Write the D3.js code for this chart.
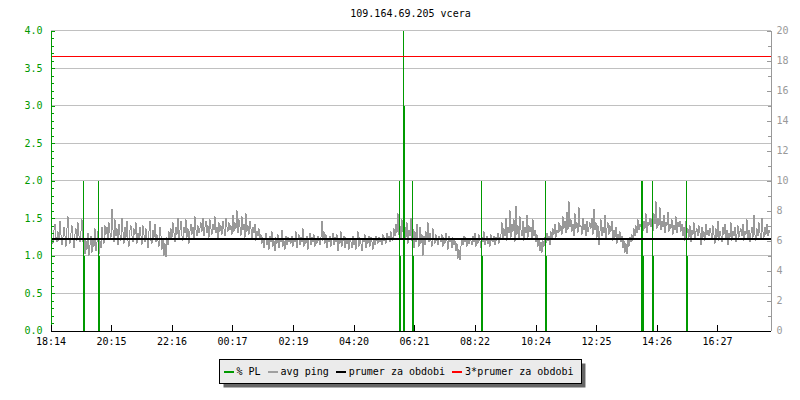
<!DOCTYPE html>
<html>
<head>
<meta charset="utf-8">
<script src="https://cdn.jsdelivr.net/npm/d3@7/dist/d3.min.js"></script>
<style>
body { margin: 0; background: #fff; }
text { font-family: "DejaVu Sans Mono", monospace; font-size: 10px; }
</style>
</head>
<body>
<svg id="chart" width="800" height="400"></svg>
<script>
// data
var title = "109.164.69.205 vcera";
var startTime = new Date(2013, 0, 14, 18, 14);
var spanMinutes = 1440;
var timeLabels = ["18:14", "20:15", "22:16", "00:17", "02:19", "04:20",
	"06:21", "08:22", "10:24", "12:25", "14:26", "16:27"];

var leftTicks = [0, 0.5, 1, 1.5, 2, 2.5, 3, 3.5, 4];
var rightTicks = [0, 2, 4, 6, 8, 10, 12, 14, 16, 18, 20];

// avg ping (ms), one value every 2 minutes, one row per hour
var pingStep = 2;
var ping = [
	6.5,6.1,5.8,6.7,7.1,6.2,5.9,6.6,6.0,7.3,6.4,5.7,6.2,6.9,6.3,5.6,6.8,7.6,6.1,5.8,6.5,7.0,6.2,5.5,6.4,6.8,6.0,7.2,6.3,5.9,
	6.6,7.4,5.9,6.2,5.1,6.0,5.4,6.5,5.0,5.7,6.3,5.2,6.1,5.6,6.8,5.3,5.9,6.6,5.1,6.0,5.5,6.9,6.2,5.8,7.0,6.4,6.9,6.1,7.2,6.5,
	6.2,8.1,6.7,5.9,7.4,6.3,6.8,5.7,7.1,6.4,6.0,7.5,6.6,5.8,6.9,6.2,7.3,6.0,5.6,6.7,7.0,6.3,5.9,6.8,6.4,7.2,5.8,6.5,6.1,6.9,
	6.3,5.7,7.0,6.4,5.9,6.8,6.1,5.5,6.6,7.3,6.0,5.8,6.7,6.2,7.1,5.9,6.4,6.0,5.6,6.9,6.3,5.4,6.1,5.0,5.8,4.9,6.2,5.7,6.6,6.1,
	6.8,6.2,7.2,6.5,5.9,6.9,6.4,7.5,6.1,6.7,7.3,6.3,6.0,6.9,6.5,7.4,6.2,6.8,5.8,6.6,7.1,6.4,6.9,6.1,7.6,6.7,6.3,7.0,6.5,6.8,
	7.2,6.6,7.5,6.3,6.9,7.3,6.5,7.0,6.2,7.4,6.8,6.4,7.1,6.7,7.6,6.5,6.9,6.1,7.2,6.6,7.0,6.4,7.3,6.8,6.3,7.5,6.9,6.6,7.2,6.7,
	7.0,6.4,7.7,6.6,7.2,6.8,8.0,6.5,7.4,6.9,6.3,7.6,6.7,7.1,6.2,7.8,6.6,7.0,6.4,7.3,6.8,6.1,6.9,6.5,7.1,6.0,6.6,6.3,6.8,6.1,
	6.4,5.8,6.2,5.5,6.0,6.5,5.7,6.1,5.4,6.3,5.9,6.6,5.6,6.0,5.3,6.2,5.8,6.4,5.5,6.1,5.9,6.7,5.6,6.0,5.4,6.3,5.7,6.2,5.9,6.0,
	5.8,6.3,5.6,6.1,5.9,6.6,5.5,6.0,6.4,5.7,6.2,5.9,6.8,5.6,6.1,5.8,6.3,5.4,6.0,6.5,5.7,6.2,5.9,6.4,5.6,6.1,5.8,6.3,6.0,5.7,
	6.2,7.3,6.0,6.6,5.8,6.4,5.5,6.1,5.9,6.3,5.6,6.0,6.5,5.7,6.2,5.9,6.4,5.3,6.1,5.8,6.6,5.6,6.0,6.3,5.5,6.2,5.8,6.1,5.4,6.0,
	5.9,5.5,6.3,5.7,6.1,5.4,6.0,6.6,5.6,6.2,5.8,5.3,6.1,5.9,6.4,5.5,6.0,5.8,6.3,5.6,6.2,5.9,5.4,6.1,5.7,6.3,6.0,5.8,6.2,5.9,
	6.1,5.7,6.4,6.0,6.2,5.8,6.5,6.1,6.3,5.9,6.6,6.2,6.0,6.8,6.3,7.1,6.5,7.8,6.4,7.0,6.1,7.4,6.6,5.9,6.9,6.2,7.2,5.8,6.7,6.3,
	7.5,6.0,6.8,5.5,6.6,5.9,7.1,6.2,5.6,6.9,5.8,6.4,5.0,6.3,5.7,6.6,6.1,7.2,5.9,6.5,6.0,5.6,6.8,6.2,5.8,6.4,6.0,5.7,6.3,6.1,
	5.9,6.4,5.6,6.2,5.8,6.5,6.0,5.4,6.3,5.9,6.1,5.5,6.2,5.7,6.0,5.3,5.8,4.8,5.4,4.7,5.6,6.1,5.7,6.3,5.9,6.2,5.6,6.0,5.8,6.1,
	6.0,5.7,6.3,5.9,6.5,5.6,6.1,5.8,6.4,6.0,5.5,6.2,5.9,6.6,5.7,6.0,6.3,5.8,6.1,5.6,6.4,6.0,5.9,6.3,5.7,6.2,6.0,6.5,5.8,6.2,
	6.4,7.2,6.1,6.8,6.3,7.5,6.0,6.9,6.5,8.0,6.2,7.1,6.6,7.4,5.9,8.3,6.4,7.0,6.1,7.6,6.7,6.3,7.3,6.0,6.9,6.5,7.7,6.2,7.0,6.6,
	6.9,6.1,7.4,6.3,6.7,5.9,6.4,5.6,6.1,5.3,5.9,5.2,6.0,5.6,6.2,5.8,6.5,6.0,6.3,5.7,6.6,6.1,6.8,6.4,7.1,6.2,6.7,6.5,7.2,6.6,
	7.0,6.4,7.6,6.8,7.3,6.5,7.9,6.7,8.6,6.9,7.4,6.6,7.1,6.3,7.8,6.8,7.2,6.5,8.2,6.9,7.0,6.4,7.5,6.7,7.1,6.3,7.3,6.6,6.9,7.2,
	6.8,7.5,6.4,8.1,6.7,7.2,6.2,7.0,5.7,6.6,7.4,6.3,6.9,6.5,7.7,6.1,6.8,7.2,6.4,7.0,6.6,7.3,6.0,6.7,6.2,6.9,5.8,6.4,6.1,6.6,
	5.9,6.3,5.5,6.0,5.2,5.8,5.1,6.1,5.6,6.2,5.9,6.4,6.0,6.8,6.3,7.0,6.5,7.4,6.7,7.1,6.9,7.6,6.6,7.3,6.8,7.8,6.5,7.2,7.0,7.5,
	6.9,7.4,6.6,7.8,7.1,8.6,6.8,7.5,7.0,8.2,6.7,7.3,6.9,7.7,6.5,7.2,7.0,7.9,6.6,7.1,6.8,7.4,6.4,7.0,6.7,7.6,6.5,7.2,6.9,7.3,
	6.6,7.1,6.3,6.9,6.0,7.3,6.5,6.8,6.2,7.0,5.9,6.7,6.4,7.2,6.1,6.6,6.8,6.3,7.0,6.5,5.7,6.9,6.2,6.6,6.0,7.1,6.4,6.7,6.3,6.8,
	6.5,6.1,7.0,6.4,5.8,6.8,6.2,7.3,6.0,6.6,6.3,5.9,6.9,6.4,7.1,6.1,6.7,5.7,6.5,6.2,7.2,6.0,6.6,6.3,6.9,5.9,6.4,7.0,6.2,6.6,
	6.8,6.3,7.1,6.0,6.6,6.4,7.4,6.1,6.7,5.9,6.5,6.9,6.2,7.7,6.4,6.0,6.8,6.3,7.2,6.5,6.1,7.5,6.6,6.2,6.9,6.4,7.1,6.3,6.7,6.5
];
var avgPing = 6.09; // prumer za obdobi

// packet loss events: minute offset, peak %, level %
var plMinutes = [65, 94, 697, 705, 723, 861, 989, 1180, 1182, 1203, 1271];
var plMax     = [2, 2, 2, 4, 2, 2, 2, 2, 2, 2, 2];
var plLevel   = [1, 1, 1, 3, 1, 1, 1, 1, 1, 1, 1];

var legendLabels = ["% PL", "avg ping", "prumer za obdobi", "3*prumer za obdobi"];

// styles
var green = "#009900", gray = "#999999", grid = "#c0c0c0";
var legendColors = [green, "#a0a0a0", "#000000", "#ff0000"];

var svg = d3.select("#chart");
var plotL = 50.5, plotR = 770.5, plotT = 30.5, plotB = 330.5;

function minutes(m) { return new Date(startTime.getTime() + m * 60000); }

var x = d3.scaleTime()
	.domain([startTime, minutes(spanMinutes)])
	.range([plotL, plotR]);
var yL = d3.scaleLinear().domain([0, 4]).range([plotB, plotT]);
var yR = d3.scaleLinear().domain([0, 20]).range([plotB, plotT]);

// tick dates from labels
var tickDates = timeLabels.map(function(s) {
	var p = s.split(":"), h = +p[0], mi = +p[1];
	var d = new Date(startTime);
	d.setHours(h, mi, 0, 0);
	if (d < startTime) d.setDate(d.getDate() + 1);
	return d;
});

// title
svg.append("text")
	.attr("x", (plotL + plotR) / 2)
	.attr("y", 17)
	.attr("text-anchor", "middle")
	.attr("fill", "#000")
	.text(title);

// horizontal grid
svg.append("g")
	.attr("shape-rendering", "crispEdges")
	.selectAll("line")
	.data(leftTicks.filter(function(d) { return d > 0; }))
	.enter().append("line")
	.attr("x1", plotL).attr("x2", plotR)
	.attr("y1", function(d) { return yL(d); })
	.attr("y2", function(d) { return yL(d); })
	.attr("stroke", grid);

// avg ping line
var pingLine = d3.line()
	.x(function(d, i) { return x(minutes(i * pingStep + 1)); })
	.y(function(d) { return yR(d); });

svg.append("path")
	.datum(ping)
	.attr("d", pingLine)
	.attr("fill", "none")
	.attr("stroke", gray)
	.attr("stroke-width", 1)
	.attr("shape-rendering", "crispEdges");

// packet loss
var pl = svg.append("g").attr("shape-rendering", "crispEdges");
plMinutes.forEach(function(m, i) {
	var px = Math.round(x(minutes(m)));
	pl.append("line")
		.attr("x1", px + 0.5).attr("x2", px + 0.5)
		.attr("y1", yL(0)).attr("y2", yL(plMax[i]))
		.attr("stroke", green);
	pl.append("rect")
		.attr("x", px - 0.5)
		.attr("width", 2)
		.attr("y", yL(plLevel[i]))
		.attr("height", yL(0) - yL(plLevel[i]))
		.attr("fill", green);
});

// average and 3*average
svg.append("line")
	.attr("x1", plotL).attr("x2", plotR)
	.attr("y1", Math.round(yR(avgPing))).attr("y2", Math.round(yR(avgPing)))
	.attr("stroke", "#000").attr("stroke-width", 2)
	.attr("shape-rendering", "crispEdges");
svg.append("line")
	.attr("x1", plotL).attr("x2", plotR)
	.attr("y1", yR(avgPing * 3)).attr("y2", yR(avgPing * 3))
	.attr("stroke", "#ff0000")
	.attr("shape-rendering", "crispEdges");

// axes
function styleAxis(g, color, textColor) {
	g.attr("shape-rendering", "crispEdges");
	g.select(".domain").attr("stroke", color);
	g.selectAll(".tick line").attr("stroke", color);
	g.selectAll(".tick text").attr("fill", textColor)
		.style("font-family", "'DejaVu Sans Mono', monospace").style("font-size", "10px");
}

svg.append("g")
	.attr("transform", "translate(" + plotL + ",0)")
	.call(d3.axisLeft(yL).tickValues(d3.range(0, 41).map(function(d) { return d / 10; }))
		.tickSize(-3).tickSizeOuter(0).tickFormat(""))
	.call(styleAxis, green, green);
svg.append("g")
	.attr("transform", "translate(" + plotL + ",0)")
	.call(d3.axisLeft(yL).tickValues(leftTicks).tickSize(-4).tickSizeOuter(0)
		.tickPadding(8).tickFormat(d3.format(".1f")))
	.call(styleAxis, green, green);

svg.append("g")
	.attr("transform", "translate(" + plotR + ",0)")
	.call(d3.axisRight(yR).tickValues(d3.range(0, 21)).tickSize(-3).tickSizeOuter(0).tickFormat(""))
	.call(styleAxis, gray, gray);
svg.append("g")
	.attr("transform", "translate(" + plotR + ",0)")
	.call(d3.axisRight(yR).tickValues(rightTicks).tickSize(-4).tickSizeOuter(0).tickPadding(6))
	.call(styleAxis, gray, gray);

svg.append("g")
	.attr("transform", "translate(0," + plotB + ")")
	.call(d3.axisBottom(x).tickValues(tickDates).tickSize(-6).tickSizeOuter(0)
		.tickPadding(7).tickFormat(function(d, i) { return timeLabels[i]; }))
	.call(styleAxis, "#000", "#000");

// legend
var lg = svg.append("g");
var shadow = lg.append("rect").attr("fill", "#666");
var box = lg.append("rect").attr("fill", "#ebebeb").attr("stroke", "#000")
	.attr("shape-rendering", "crispEdges");
var cursor = 0, ly = 372;
legendLabels.forEach(function(lab, i) {
	if (i > 0) cursor += 7;
	lg.append("line")
		.attr("x1", cursor).attr("x2", cursor + 10)
		.attr("y1", ly).attr("y2", ly)
		.attr("stroke", legendColors[i]).attr("stroke-width", 2)
		.attr("shape-rendering", "crispEdges");
	var t = lg.append("text")
		.attr("x", cursor + 13).attr("y", ly + 3)
		.attr("fill", "#000")
		.text(lab);
	cursor += 13 + t.node().getComputedTextLength();
});
var pad = 4, bw = cursor + pad * 2 + 4;
var bx = Math.round(400 - bw / 2) + 0.5;
lg.selectAll("line, text").attr("transform", "translate(" + (bx + pad) + ",0)");
box.attr("x", bx).attr("y", 359.5).attr("width", bw).attr("height", 24);
shadow.attr("x", bx + 4).attr("y", 363.5).attr("width", bw).attr("height", 24);
</script>
</body>
</html>
